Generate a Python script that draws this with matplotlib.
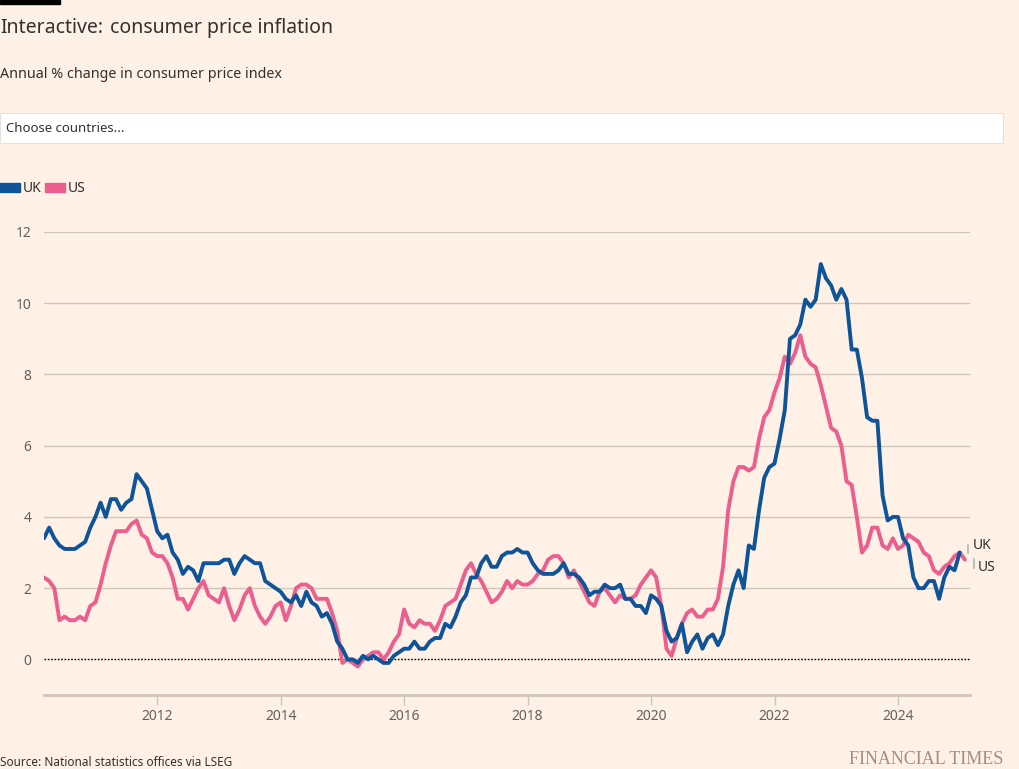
import numpy as np
import matplotlib
matplotlib.use("Agg")
import matplotlib.pyplot as plt
from matplotlib.patches import Rectangle

plt.rcParams['font.family'] = ['Noto Sans', 'DejaVu Sans']

BG = "#fff1e5"
UK_COL = "#0f5499"
US_COL = "#eb5e8d"
GRID = "#cec6b9"
TEXT = "#33302e"
TICK = "#66605c"

# monthly annual % change, UK from Mar 2010 to Jan 2025
uk_cpi = [3.4, 3.7, 3.4, 3.2, 3.1, 3.1, 3.1, 3.2, 3.3, 3.7,
          4.0, 4.4, 4.0, 4.5, 4.5, 4.2, 4.4, 4.5, 5.2, 5.0, 4.8, 4.2,
          3.6, 3.4, 3.5, 3.0, 2.8, 2.4, 2.6, 2.5, 2.2, 2.7, 2.7, 2.7,
          2.7, 2.8, 2.8, 2.4, 2.7, 2.9, 2.8, 2.7, 2.7, 2.2, 2.1, 2.0,
          1.9, 1.7, 1.6, 1.8, 1.5, 1.9, 1.6, 1.5, 1.2, 1.3, 1.0, 0.5,
          0.3, 0.0, 0.0, -0.1, 0.1, 0.0, 0.1, 0.0, -0.1, -0.1, 0.1, 0.2,
          0.3, 0.3, 0.5, 0.3, 0.3, 0.5, 0.6, 0.6, 1.0, 0.9, 1.2, 1.6,
          1.8, 2.3, 2.3, 2.7, 2.9, 2.6, 2.6, 2.9, 3.0, 3.0, 3.1, 3.0,
          3.0, 2.7, 2.5, 2.4, 2.4, 2.4, 2.5, 2.7, 2.4, 2.4, 2.3, 2.1,
          1.8, 1.9, 1.9, 2.1, 2.0, 2.0, 2.1, 1.7, 1.7, 1.5, 1.5, 1.3,
          1.8, 1.7, 1.5, 0.8, 0.5, 0.6, 1.0, 0.2, 0.5, 0.7, 0.3, 0.6,
          0.7, 0.4, 0.7, 1.5, 2.1, 2.5, 2.0, 3.2, 3.1, 4.2, 5.1, 5.4,
          5.5, 6.2, 7.0, 9.0, 9.1, 9.4, 10.1, 9.9, 10.1, 11.1, 10.7, 10.5,
          10.1, 10.4, 10.1, 8.7, 8.7, 7.9, 6.8, 6.7, 6.7, 4.6, 3.9, 4.0,
          4.0, 3.4, 3.2, 2.3, 2.0, 2.0, 2.2, 2.2, 1.7, 2.3, 2.6, 2.5,
          3.0]

# US from Mar 2010 to Feb 2025
us_cpi = [2.3, 2.2, 2.0, 1.1, 1.2, 1.1, 1.1, 1.2, 1.1, 1.5,
          1.6, 2.1, 2.7, 3.2, 3.6, 3.6, 3.6, 3.8, 3.9, 3.5, 3.4, 3.0,
          2.9, 2.9, 2.7, 2.3, 1.7, 1.7, 1.4, 1.7, 2.0, 2.2, 1.8, 1.7,
          1.6, 2.0, 1.5, 1.1, 1.4, 1.8, 2.0, 1.5, 1.2, 1.0, 1.2, 1.5,
          1.6, 1.1, 1.5, 2.0, 2.1, 2.1, 2.0, 1.7, 1.7, 1.7, 1.3, 0.8,
          -0.1, 0.0, -0.1, -0.2, 0.0, 0.1, 0.2, 0.2, 0.0, 0.2, 0.5, 0.7,
          1.4, 1.0, 0.9, 1.1, 1.0, 1.0, 0.8, 1.1, 1.5, 1.6, 1.7, 2.1,
          2.5, 2.7, 2.4, 2.2, 1.9, 1.6, 1.7, 1.9, 2.2, 2.0, 2.2, 2.1,
          2.1, 2.2, 2.4, 2.5, 2.8, 2.9, 2.9, 2.7, 2.3, 2.5, 2.2, 1.9,
          1.6, 1.5, 1.9, 2.0, 1.8, 1.6, 1.8, 1.7, 1.7, 1.8, 2.1, 2.3,
          2.5, 2.3, 1.5, 0.3, 0.1, 0.6, 1.0, 1.3, 1.4, 1.2, 1.2, 1.4,
          1.4, 1.7, 2.6, 4.2, 5.0, 5.4, 5.4, 5.3, 5.4, 6.2, 6.8, 7.0,
          7.5, 7.9, 8.5, 8.3, 8.6, 9.1, 8.5, 8.3, 8.2, 7.7, 7.1, 6.5,
          6.4, 6.0, 5.0, 4.9, 4.0, 3.0, 3.2, 3.7, 3.7, 3.2, 3.1, 3.4,
          3.1, 3.2, 3.5, 3.4, 3.3, 3.0, 2.9, 2.5, 2.4, 2.6, 2.7, 2.9,
          3.0, 2.8]

start = 2010 + 2 / 12
uk_x = start + np.arange(len(uk_cpi)) / 12
us_x = start + np.arange(len(us_cpi)) / 12

y_ticks = [0, 2, 4, 6, 8, 10, 12]
x_ticks = [2012, 2014, 2016, 2018, 2020, 2022, 2024]

fig = plt.figure(figsize=(10.2, 7.69), dpi=100, facecolor=BG)
W, H = 1020, 769
ax = fig.add_axes([44 / W, 1 - 695 / H, (970 - 44) / W, (695 - 232) / H])
ax.set_facecolor(BG)

for yv in y_ticks[1:]:
    ax.axhline(yv, color=GRID, lw=1, zorder=1)
ax.axhline(0, color="black", lw=1, ls=(0, (1.2, 1.2)), zorder=1)

ax.plot(us_x, us_cpi, color=US_COL, lw=2.8, solid_joinstyle="round", solid_capstyle="round", zorder=3)
ax.plot(uk_x, uk_cpi, color=UK_COL, lw=2.8, solid_joinstyle="round", solid_capstyle="round", zorder=4)

ax.set_xlim(start, 2025 + 2 / 12)
ax.set_ylim(-1, 12)
for s in ["top", "right", "left"]:
    ax.spines[s].set_visible(False)
ax.spines["bottom"].set_color(GRID)
ax.spines["bottom"].set_linewidth(2)
ax.set_xticks(x_ticks)
ax.set_xticklabels([str(t) for t in x_ticks])
ax.set_yticks(y_ticks)
ax.set_yticklabels([str(t) for t in y_ticks])
ax.tick_params(axis="x", length=7, width=1, color=GRID, labelcolor=TICK, labelsize=10, pad=3)
ax.tick_params(axis="y", length=0, labelcolor=TICK, labelsize=10, pad=9)

# end labels
ax.annotate("UK", xy=(uk_x[-1], uk_cpi[-1]), xytext=(9.5, 5), textcoords="offset points",
            color=TEXT, fontsize=10, va="center", ha="left", annotation_clip=False)
ax.annotate("US", xy=(us_x[-1], us_cpi[-1]), xytext=(9, -6), textcoords="offset points",
            color=TEXT, fontsize=10, va="center", ha="left", annotation_clip=False)
fig.lines.append(plt.Line2D([968 / W, 968 / W], [1 - 553 / H, 1 - 545 / H], color="#bbb3a8", lw=1.2, transform=fig.transFigure))
fig.lines.append(plt.Line2D([974 / W, 974 / W], [1 - 568 / H, 1 - 559 / H], color="#bbb3a8", lw=1.2, transform=fig.transFigure))

# header
fig.patches.append(Rectangle((0, 1 - 4 / H), 60 / W, 4 / H, color="black", transform=fig.transFigure))
fig.text(0, 1 - 28 / H, "Interactive:", fontsize=14, fontweight="bold", color=TEXT, va="center", ha="left")
fig.text(110 / W, 1 - 28 / H, "consumer price inflation", fontsize=14, color=TEXT, va="center", ha="left")
fig.text(0, 1 - 74 / H, "Annual % change in consumer price index", fontsize=10.3, color=TEXT, va="center", ha="left")
fig.patches.append(Rectangle((0, 1 - 143 / H), 1003 / W, 30 / H, facecolor="white", edgecolor="#e9dfd5",
                             lw=0.8, transform=fig.transFigure))
fig.text(6 / W, 1 - 129 / H, "Choose countries...", fontsize=9.5, color=TEXT, va="center", ha="left")

# legend
fig.patches.append(Rectangle((0, 1 - 192 / H), 20 / W, 9 / H, color=UK_COL, transform=fig.transFigure))
fig.text(23 / W, 1 - 188 / H, "UK", fontsize=10, color=TEXT, va="center", ha="left")
fig.patches.append(Rectangle((45 / W, 1 - 192 / H), 20 / W, 9 / H, color=US_COL, transform=fig.transFigure))
fig.text(68 / W, 1 - 188 / H, "US", fontsize=10, color=TEXT, va="center", ha="left")

# footer
fig.text(0, 1 - 762 / H, "Source: National statistics offices via LSEG", fontsize=8.5, color=TEXT, va="center", ha="left")
fig.text(1003 / W, 1 - 760 / H, "FINANCIAL TIMES", fontsize=13, color="#9e9086", va="center", ha="right",
         family=["Liberation Serif", "DejaVu Serif"])

fig.savefig("out.png", dpi=100, facecolor=BG)
